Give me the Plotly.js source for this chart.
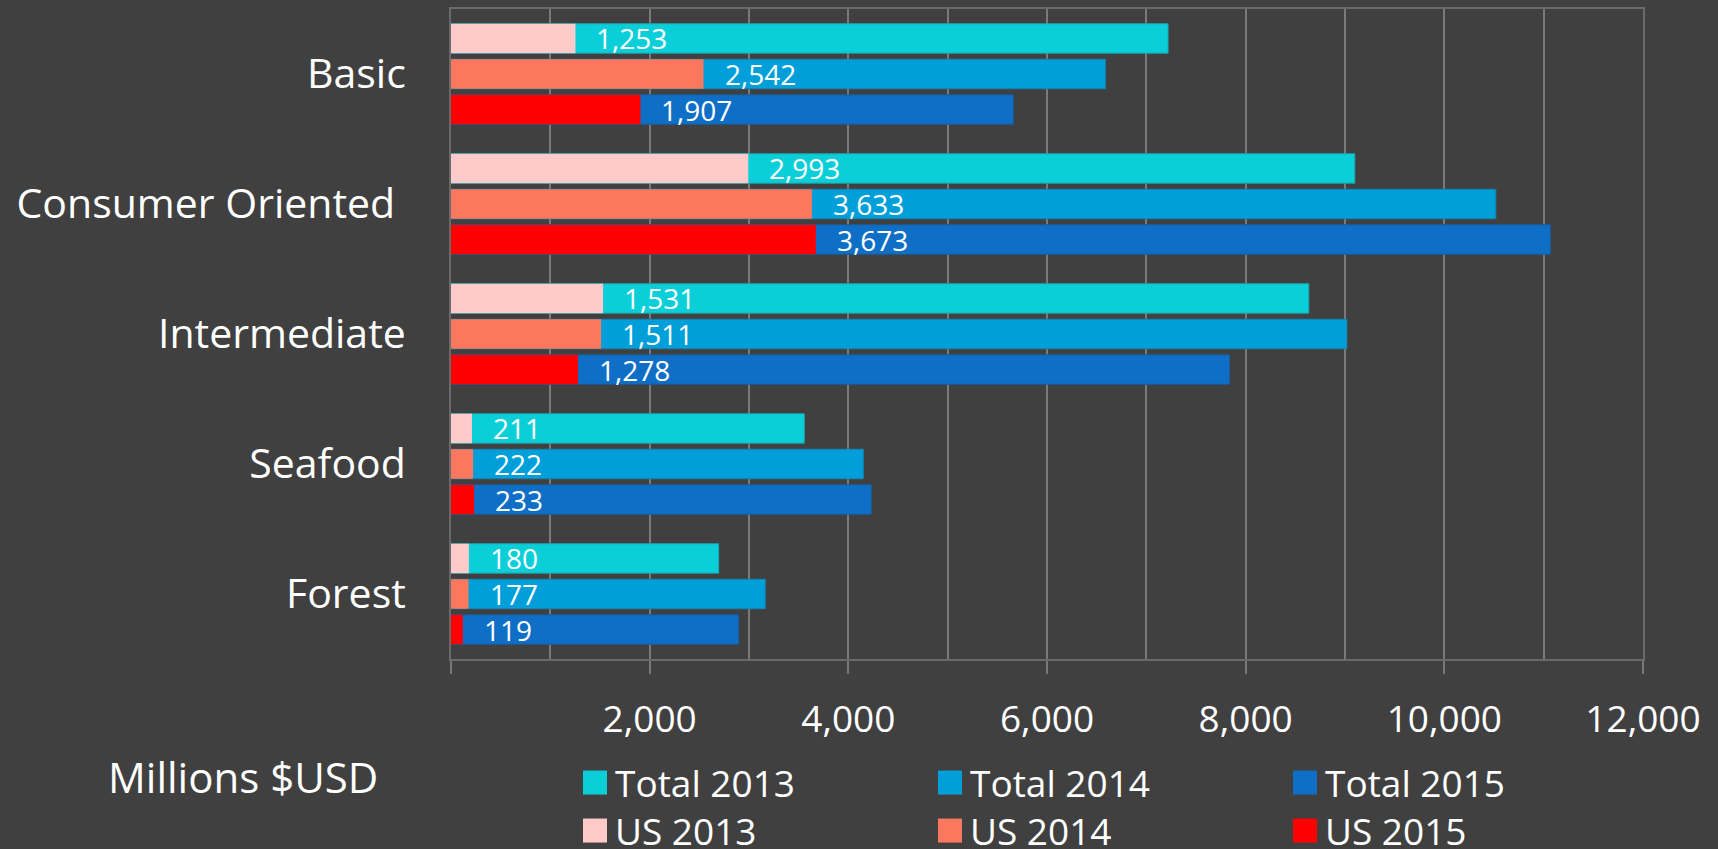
<!DOCTYPE html>
<html><head><meta charset="utf-8">
<script src="https://cdn.plot.ly/plotly-3.0.1.min.js"></script>
<style>html,body{margin:0;padding:0;background:#404040;}#chart{width:1718px;height:849px;}</style>
</head><body><div id="chart"></div>
<script>
// ---- data ----
const categories = ['Basic', 'Consumer Oriented', 'Intermediate', 'Seafood', 'Forest'];
const categoryLabels = ['Basic', 'Consumer Oriented\u00a0', 'Intermediate', 'Seafood', 'Forest'];
const totalNames = ['Total 2013', 'Total 2014', 'Total 2015'];
const usNames = ['US 2013', 'US 2014', 'US 2015'];
const total2013 = [7219, 9099, 8636, 3557, 2695];
const total2014 = [6588, 10518, 9019, 4151, 3164];
const total2015 = [5661, 11067, 7838, 4231, 2896];
const us2013 = [1253, 2993, 1531, 211, 180];
const us2014 = [2542, 3633, 1511, 222, 177];
const us2015 = [1907, 3673, 1278, 233, 119];
const xTickVals = [0, 2000, 4000, 6000, 8000, 10000, 12000];
const xTickText = ['', '2,000', '4,000', '6,000', '8,000', '10,000', '12,000'];
const axisTitle = 'Millions $USD';

// ---- style ----
const totalColors = ['#0BCFD8', '#009FD9', '#0F6FC6'];
const totalLines = ['#1B9FA8', '#1482B0', '#195C9C'];
const usColors = ['#FFCACA', '#FB775D', '#FF0000'];
const FONT = 'Open Sans, Noto Sans, sans-serif';
const W = 1718, H = 849;
const M = {l: 451, r: 75, t: 9, b: 190, autoexpand: false};
const PW = W - M.l - M.r, PH = H - M.t - M.b;
const pxX = px => (px - M.l) / PW;
const pxY = py => (H - M.b - py) / PH;

const bargap = 0.18, groupgap = 0.17;
const slot = (1 - bargap) / 3;
const barW = slot * (1 - groupgap);
const offsetFor = k => -(1 - bargap) / 2 + k * slot + (slot - barW) / 2;
const centerFor = k => -(1 - bargap) / 2 + (k + 0.5) * slot;

const totals = [total2013, total2014, total2015];
const uss = [us2013, us2014, us2015];

const traces = [];
totals.forEach((vals, k) => traces.push({
  type: 'bar', orientation: 'h', name: totalNames[k], legend: 'legend',
  x: vals, y: categories, width: barW, offset: offsetFor(k),
  marker: {color: totalColors[k], line: {color: totalLines[k], width: 1}},
  hoverinfo: 'x+name'
}));
uss.forEach((vals, k) => traces.push({
  type: 'bar', orientation: 'h', name: usNames[k], legend: 'legend2',
  x: vals, y: categories, width: barW, offset: offsetFor(k),
  marker: {color: usColors[k], line: {width: 0}},
  hoverinfo: 'x+name'
}));

const annotations = [];
uss.forEach((vals, k) => vals.forEach((v, i) => annotations.push({
  xref: 'x', yref: 'y', x: v, y: i + centerFor(k),
  text: v.toLocaleString('en-US'), showarrow: false,
  xanchor: 'left', yanchor: 'middle', xshift: 19, height: 32,
  font: {family: FONT, size: 28, color: '#FFFFFF'}
})));
annotations.push({
  xref: 'paper', yref: 'paper', x: pxX(106), y: pxY(776),
  xanchor: 'left', yanchor: 'middle', showarrow: false,
  text: axisTitle, font: {family: FONT, size: 42, color: '#FFFFFF'}
});

const legendBase = {
  orientation: 'h', x: pxX(575), xanchor: 'left', yanchor: 'middle',
  entrywidth: 310, entrywidthmode: 'pixels',
  font: {family: FONT, size: 37, color: '#FFFFFF'},
  bgcolor: 'rgba(0,0,0,0)', borderwidth: 0, traceorder: 'normal', valign: 'middle'
};

const layout = {
  width: W, height: H,
  paper_bgcolor: '#404040', plot_bgcolor: '#404040',
  margin: M,
  barmode: 'overlay',
  showlegend: true,
  font: {family: FONT, color: '#FFFFFF'},
  xaxis: {
    range: [0, 12000], tickmode: 'array', tickvals: xTickVals, ticktext: xTickText,
    ticks: 'outside', ticklen: 13, tickwidth: 2, tickcolor: '#777777',
    showgrid: true, gridcolor: '#7a7a7a', gridwidth: 2,
    minor: {tickmode: 'linear', tick0: 0, dtick: 1000, showgrid: true, gridcolor: '#7a7a7a', gridwidth: 2, ticks: ''},
    zeroline: false, showline: true, linecolor: '#6a6a6a', linewidth: 2, mirror: true,
    tickfont: {family: FONT, size: 37, color: '#FFFFFF'},
    ticklabelstandoff: 14, automargin: false, fixedrange: true
  },
  yaxis: {
    type: 'category', categoryorder: 'array', categoryarray: categories,
    autorange: 'reversed', tickmode: 'array', tickvals: categories, ticktext: categoryLabels,
    ticks: '', showgrid: false, zeroline: false,
    showline: true, linecolor: '#6a6a6a', linewidth: 2, mirror: true,
    tickfont: {family: FONT, size: 41, color: '#FFFFFF'},
    ticklabelstandoff: 35, automargin: false, fixedrange: true
  },
  legend: Object.assign({}, legendBase, {y: pxY(783)}),
  legend2: Object.assign({}, legendBase, {y: pxY(831)}),
  annotations: annotations
};

Plotly.newPlot('chart', traces, layout, {displayModeBar: false, staticPlot: true}).then(() => {
  document.querySelectorAll('.legendpoints path').forEach(p => {
    p.setAttribute('d', 'M12,12H-12V-12H12Z');
    p.style.strokeWidth = '0';
  });
});
</script>
</body></html>
